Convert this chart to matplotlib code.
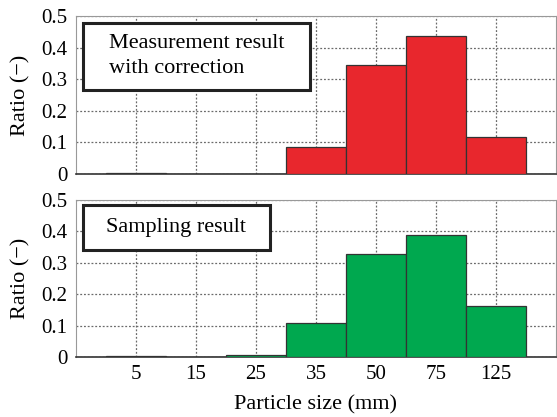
import numpy as np
import matplotlib.pyplot as plt
from matplotlib.patches import Rectangle

plt.rcParams['font.family'] = ['Liberation Serif', 'DejaVu Serif']

sizes = ['5', '15', '25', '35', '50', '75', '125']
corrected = [0.003, 0.0, 0.0, 0.084, 0.345, 0.437, 0.116]
sampling = [0.002, 0.0, 0.005, 0.107, 0.328, 0.390, 0.163]

x = np.arange(1, len(sizes) + 1)

fig = plt.figure(figsize=(5.57, 4.17), dpi=100)
ax1 = fig.add_axes([0.1364, 0.5827, 0.8618, 0.379])
ax2 = fig.add_axes([0.1364, 0.1439, 0.8618, 0.3765])

# label box: (x0, y0, x1, y1) in axes fraction
panels = [(ax1, corrected, '#e8272d', 'Measurement result\nwith correction', (0.0146, 0.532, 0.4875, 0.958)),
          (ax2, sampling, '#00a84f', 'Sampling result', (0.0146, 0.682, 0.404, 0.968))]

for ax, vals, col, txt, box in panels:
    ax.bar(x, vals, width=1.0, color=col, edgecolor='#333333', linewidth=0.9, zorder=3)
    ax.set_xlim(0, 8)
    ax.set_ylim(0, 0.5)
    ax.set_xticks(x)
    ax.set_yticks([0, 0.1, 0.2, 0.3, 0.4, 0.5])
    ax.set_yticklabels(['0', '0.1', '0.2', '0.3', '0.4', '0.5'])
    ax.grid(True, color='#6a6a6a', linestyle=(0, (1.5, 1.5)), linewidth=0.9, zorder=0)
    ax.tick_params(axis='y', length=0, labelsize=15, pad=6)
    ax.tick_params(axis='x', length=0, labelsize=15, pad=6)
    for s in ax.spines.values():
        s.set_color('#999999')
    ax.spines['bottom'].set_color('#333333')
    ax.spines['bottom'].set_linewidth(1.2)
    ax.set_ylabel('Ratio (\u2212)', fontsize=16, labelpad=8)
    x0, y0, x1, y1 = box
    ax.add_patch(Rectangle((x0, y0), x1 - x0, y1 - y0, transform=ax.transAxes,
                           facecolor='white', edgecolor='#222222', linewidth=2.2, zorder=5))
    ax.text((x0 + x1) / 2, (y0 + y1) / 2, txt, transform=ax.transAxes, fontsize=16,
            ha='center', va='center', multialignment='left', linespacing=1.45, zorder=6)

ax1.set_xticklabels([])
ax2.set_xticklabels(sizes)
ax2.set_xlabel('Particle size (mm)', fontsize=16, labelpad=8)

fig.savefig('out.png', dpi=100)
